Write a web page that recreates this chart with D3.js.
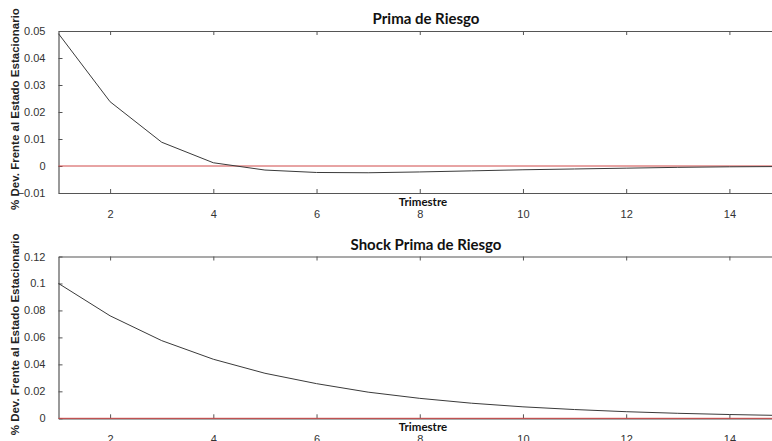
<!DOCTYPE html>
<html>
<head>
<meta charset="utf-8">
<script src="https://cdn.jsdelivr.net/npm/d3@7"></script>
<style>
  html, body { margin: 0; padding: 0; background: #fff; overflow: hidden; }
  svg { display: block; }
  .tick text { font-family: "Liberation Sans", Arial, sans-serif; font-size: 11px; fill: #333; }
</style>
</head>
<body>
<svg id="chart" width="772" height="441"></svg>
<script>
// Quarters after the shock
const trimestres = [1, 2, 3, 4, 5, 6, 7, 8, 9, 10, 11, 12, 13, 14, 15];

// Impulse response of the risk premium
const primaRiesgo = [0.049, 0.0238, 0.0088, 0.0012, -0.0015, -0.0024, -0.0025, -0.0022,
                     -0.0018, -0.0014, -0.0011, -0.0008, -0.0005, -0.0003, -0.0002];

// The risk-premium shock itself
const shockPrima = [0.1, 0.076, 0.0576, 0.0438, 0.0334, 0.0257, 0.0194, 0.0148,
                    0.0112, 0.0085, 0.0065, 0.0049, 0.0037, 0.0028, 0.0021];

const xTicks = [2, 4, 6, 8, 10, 12, 14];
const yTicksTop = [-0.01, 0, 0.01, 0.02, 0.03, 0.04, 0.05];
const yTicksBottom = [0, 0.02, 0.04, 0.06, 0.08, 0.1, 0.12];

const yLabel = "% Dev. Frente al Estado Estacionario";
const xLabel = "Trimestre";

const svg = d3.select("#chart");
const left = 58.5, right = 781;

const panels = [
  { title: "Prima de Riesgo", values: primaRiesgo, domain: [-0.01, 0.05], ticks: yTicksTop, top: 31, bottom: 193 },
  { title: "Shock Prima de Riesgo", values: shockPrima, domain: [0, 0.12], ticks: yTicksBottom, top: 256.5, bottom: 418.3 }
];

const x = d3.scaleLinear().domain([1, 15]).range([left, right]);
const fmt = d => d === 0 ? "0" : d3.format("")(+d.toFixed(2));

panels.forEach(p => {
  const y = d3.scaleLinear().domain(p.domain).range([p.bottom, p.top]);
  const g = svg.append("g");

  // bottom axis (ticks point inward)
  const xb = g.append("g").attr("transform", `translate(0,${p.bottom})`)
    .call(d3.axisBottom(x).tickValues(xTicks).tickSizeInner(-4).tickSizeOuter(0).tickPadding(17).tickFormat(d3.format("d")));
  // top axis
  const xt = g.append("g").attr("transform", `translate(0,${p.top})`)
    .call(d3.axisTop(x).tickValues(xTicks).tickSizeInner(-4).tickSizeOuter(0).tickFormat(""));
  // left axis
  const yl = g.append("g").attr("transform", `translate(${left},0)`)
    .call(d3.axisLeft(y).tickValues(p.ticks).tickSizeInner(-4).tickSizeOuter(0).tickPadding(13).tickFormat(fmt));

  [xb, xt, yl].forEach(a => {
    a.select(".domain").attr("stroke", "#555").attr("stroke-width", 1.2);
    a.selectAll(".tick line").attr("stroke", "#555");
  });

  // zero reference line
  g.append("line")
    .attr("x1", left).attr("x2", right)
    .attr("y1", y(0)).attr("y2", y(0))
    .attr("stroke", "#d04848").attr("stroke-width", 1);

  // response line
  const line = d3.line().x((d, i) => x(trimestres[i])).y(d => y(d));
  g.append("path").datum(p.values)
    .attr("d", line)
    .attr("fill", "none")
    .attr("stroke", "#3a3a3a")
    .attr("stroke-width", 1);

  // title
  g.append("text")
    .attr("x", 426).attr("y", p.top - 7)
    .attr("text-anchor", "middle")
    .attr("font-family", "Lato, 'Open Sans', sans-serif")
    .attr("font-weight", "bold")
    .attr("font-size", 15)
    .attr("fill", "#111")
    .text(p.title);

  // x label
  g.append("text")
    .attr("x", 423).attr("y", p.bottom + 12.5)
    .attr("text-anchor", "middle")
    .attr("font-family", "Lato, 'Open Sans', sans-serif")
    .attr("font-weight", "bold")
    .attr("font-size", 11.5)
    .attr("fill", "#111")
    .text(xLabel);

  // y label
  g.append("text")
    .attr("transform", `translate(19,${(p.top + p.bottom) / 2 - 3}) rotate(-90)`)
    .attr("text-anchor", "middle")
    .attr("font-family", "'Liberation Sans', Arial, sans-serif")
    .attr("font-weight", "bold")
    .attr("font-size", 11.5)
    .attr("fill", "#222")
    .text(yLabel);
});
</script>
</body>
</html>
